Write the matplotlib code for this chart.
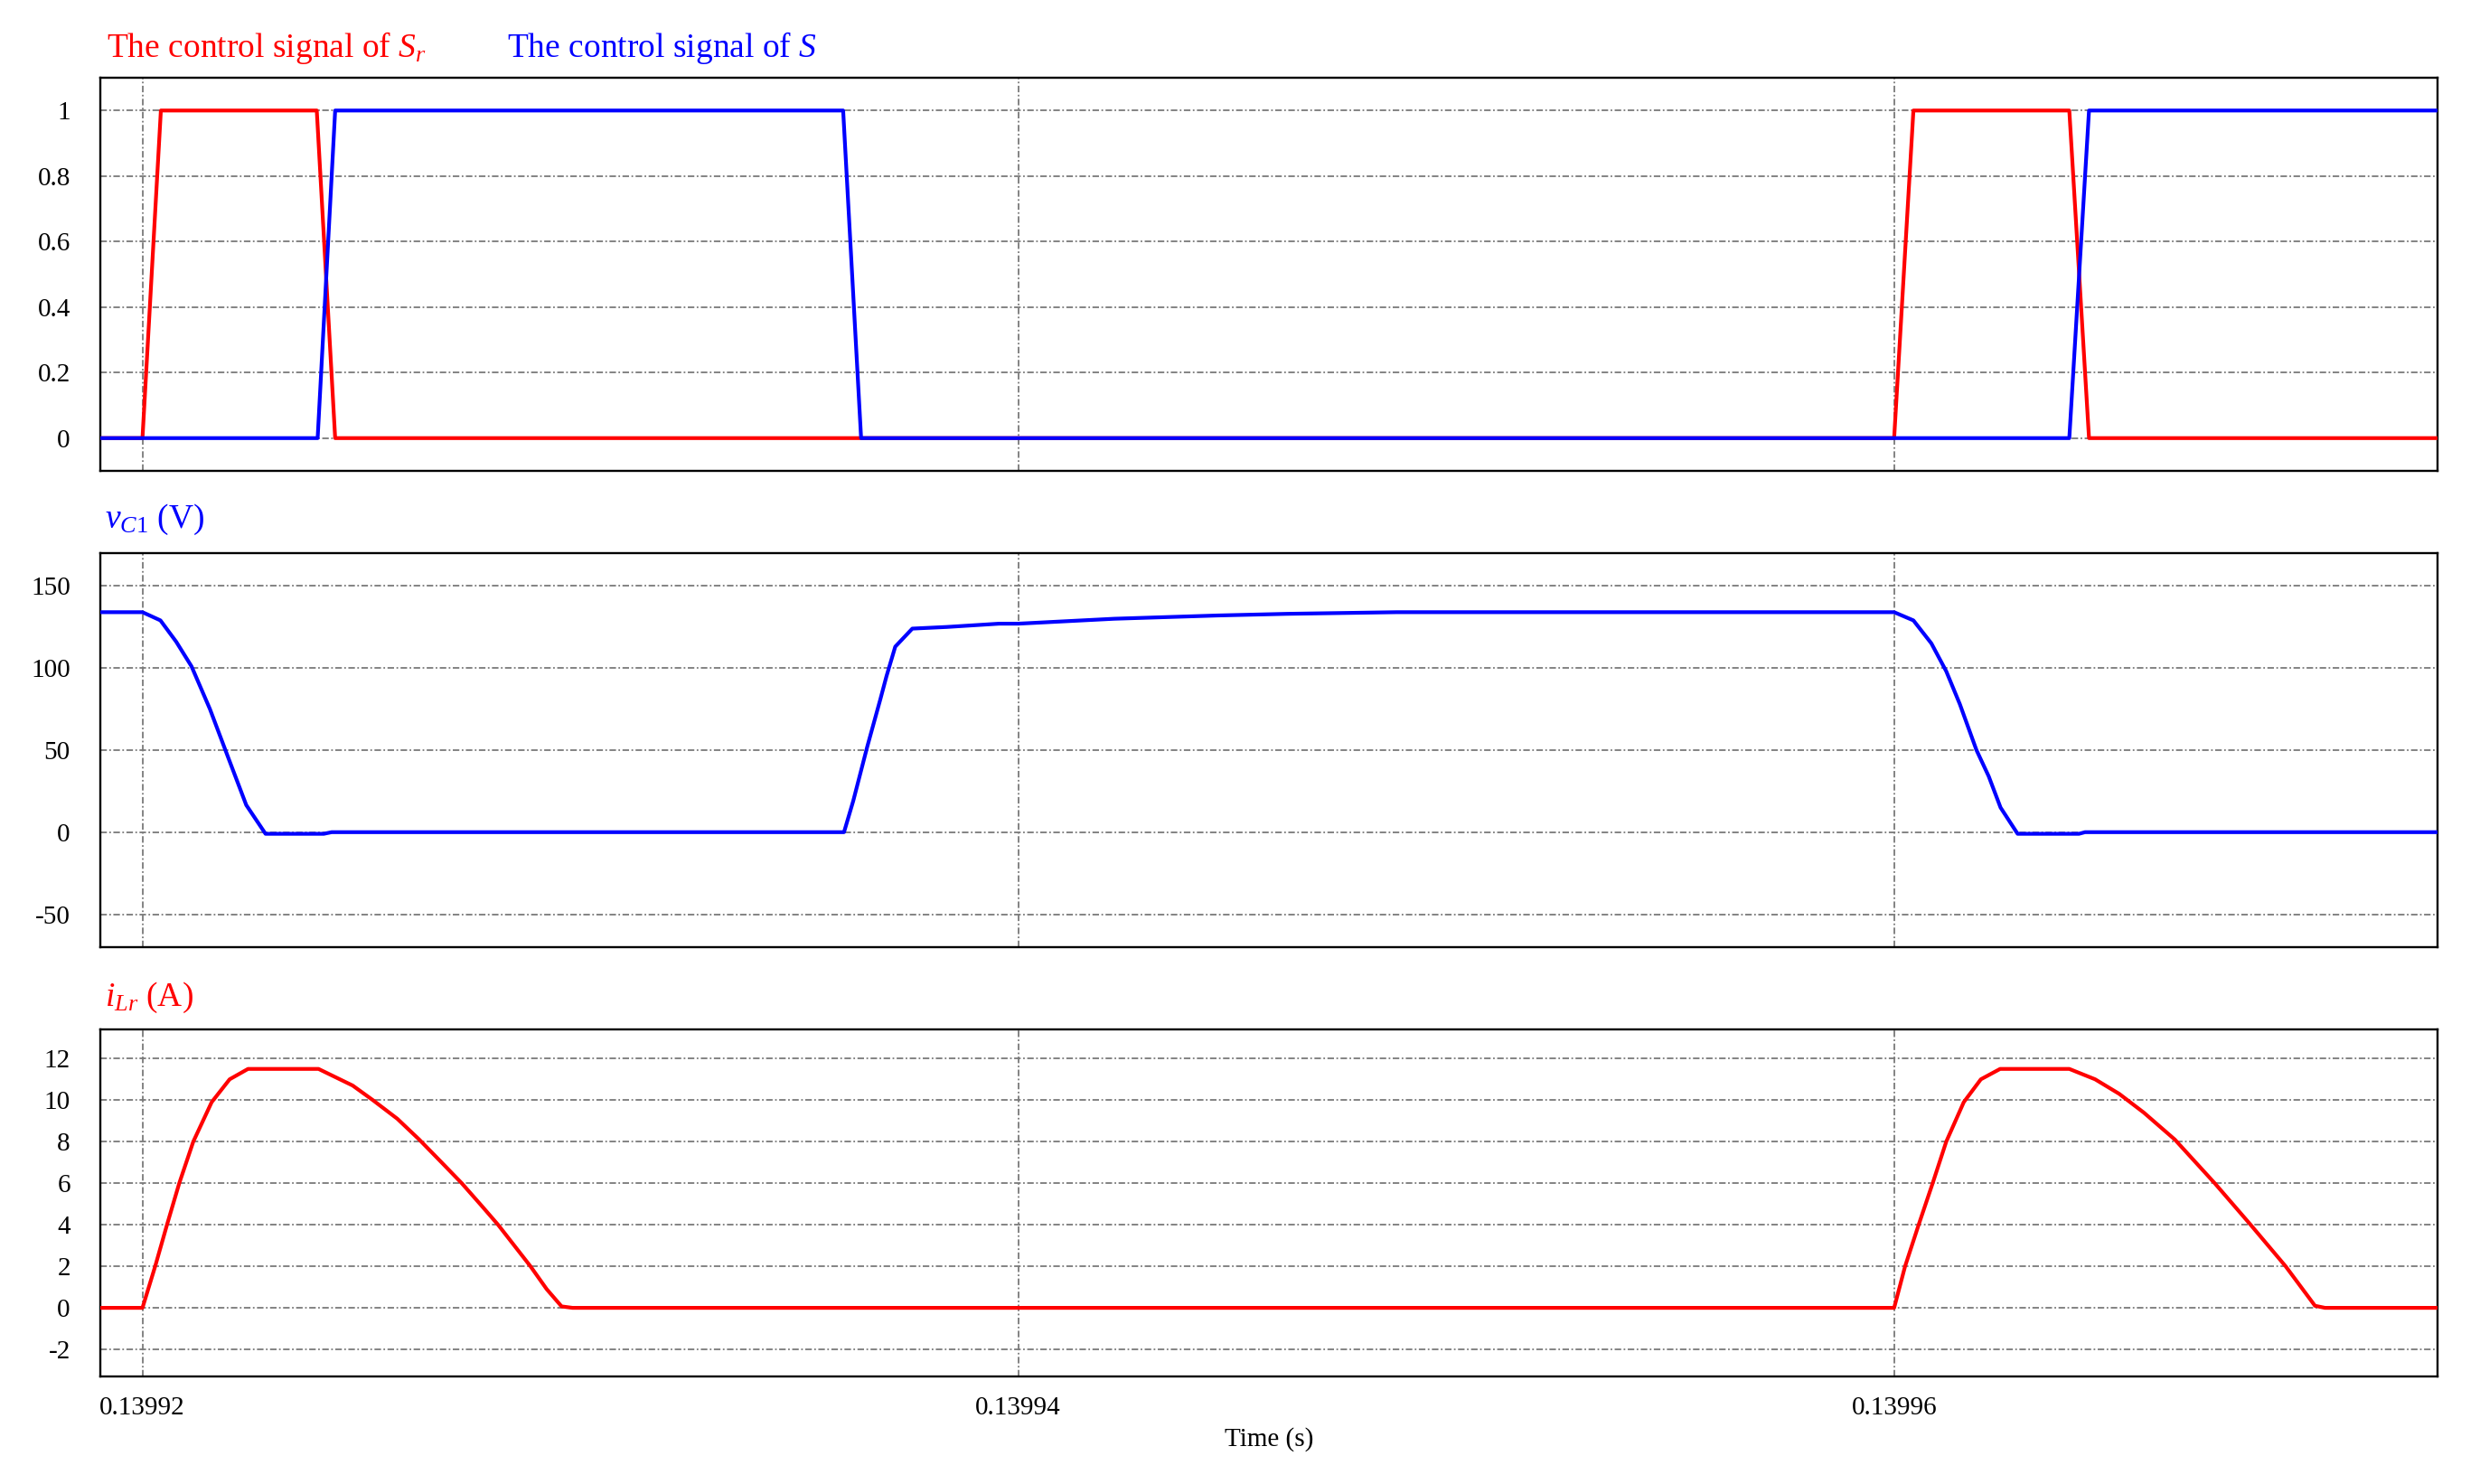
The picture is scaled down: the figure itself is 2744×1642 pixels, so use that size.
import numpy as np
import matplotlib
matplotlib.use("Agg")
import matplotlib.pyplot as plt

plt.rcParams['font.family'] = ['Liberation Serif', 'DejaVu Serif']
plt.rcParams['mathtext.fontset'] = 'custom'
plt.rcParams['mathtext.rm'] = 'Liberation Serif'
plt.rcParams['mathtext.it'] = 'Liberation Serif:italic'
plt.rcParams['axes.unicode_minus'] = False

# time axis: microseconds after 0.13992 s
t0 = 0.13992
t_start, t_end = -0.96, 52.41

# gate signals
t_sr = [-0.96, 0.0, 0.42, 3.98, 4.40, 40.0, 40.44, 44.0, 44.45, 52.41]
sr = [0, 0, 1, 1, 0, 0, 1, 1, 0, 0]
t_s = [-0.96, 4.0, 4.40, 16.0, 16.41, 44.0, 44.45, 52.41]
s = [0, 0, 1, 1, 0, 0, 1, 1]

# capacitor voltage vC1 (V)
t_vc = [-0.96, 0.0, 0.41, 0.77, 1.12, 1.54, 1.95, 2.37, 2.81, 4.14, 4.32,
        16.02, 16.23, 16.55, 16.85, 16.99, 17.19, 17.58, 18.37, 19.56, 20.0,
        22.19, 24.56, 26.14, 28.64, 40.0, 40.44, 40.85, 41.19, 41.5, 41.88,
        42.16, 42.43, 42.82, 44.22, 44.36, 52.41]
v_c1 = [134, 134, 129, 116, 101, 75, 46, 16.5, -1, -1, 0,
        0, 19, 52, 81, 95, 113, 124, 125, 127, 127,
        130, 132, 133, 134, 134, 129, 115, 98, 78, 50,
        34, 15, -1, -1, 0, 0]

# resonant inductor current iLr (A)
t_il = [-0.96, 0.0, 0.29, 0.56, 0.84, 1.16, 1.58, 1.99, 2.41, 4.02, 4.80,
        5.26, 5.82, 6.32, 6.83, 7.29, 7.75, 8.12, 8.49, 8.86, 9.23, 9.57,
        9.82, 40.0, 40.25, 40.56, 40.88, 41.19, 41.59, 41.98, 42.42, 44.0,
        44.59, 45.14, 45.70, 46.41, 47.32, 48.14, 48.94, 49.61, 49.84, 52.41]
i_lr = [0, 0, 2.0, 4.0, 6.0, 8.0, 9.9, 11.0, 11.5, 11.5, 10.7,
        10.0, 9.1, 8.1, 7.0, 6.0, 4.9, 4.0, 3.0, 2.0, 0.9, 0.07,
        0, 0, 2.0, 4.0, 6.0, 8.0, 9.9, 11.0, 11.5, 11.5,
        11.0, 10.3, 9.4, 8.1, 6.0, 4.0, 2.0, 0.1, 0, 0]

x_ticks = [0.13992, 0.13994, 0.13996]
x_ticklabels = ['0.13992', '0.13994', '0.13996']


def sec(us):
    return t0 + np.array(us) * 1e-6


fig = plt.figure(figsize=(27.44, 16.42), dpi=100)
left, width = 0.0405, 0.9424
ax1 = fig.add_axes([left, 0.6827, width, 0.2649])
ax2 = fig.add_axes([left, 0.3618, width, 0.2655])
ax3 = fig.add_axes([left, 0.0725, width, 0.2338])

lw = 3.0
ax1.plot(sec(t_sr), sr, color='#ff0000', lw=lw, zorder=3)
ax1.plot(sec(t_s), s, color='#0000ff', lw=lw, zorder=3)
ax2.plot(sec(t_vc), v_c1, color='#0000ff', lw=lw, zorder=3)
ax3.plot(sec(t_il), i_lr, color='#ff0000', lw=lw, zorder=3)

ax1.set_ylim(-0.1, 1.1)
ax1.set_yticks([0, 0.2, 0.4, 0.6, 0.8, 1])
ax1.set_yticklabels(['0', '0.2', '0.4', '0.6', '0.8', '1'])
ax2.set_ylim(-70, 170)
ax2.set_yticks([-50, 0, 50, 100, 150])
ax3.set_ylim(-3.3, 13.4)
ax3.set_yticks(list(range(-2, 13, 2)))

grid_ls = (0, (4, 1.5, 1, 1.5))
for ax in (ax1, ax2, ax3):
    ax.set_xlim(sec(t_start), sec(t_end))
    ax.set_xticks(x_ticks)
    ax.grid(True, color='#7a7a7a', linestyle=grid_ls, linewidth=1.3)
    ax.tick_params(axis='both', length=0, labelsize=21)
    ax.tick_params(axis='y', pad=24)
    ax.tick_params(axis='x', pad=16)
    for sp in ax.spines.values():
        sp.set_linewidth(1.7)
        sp.set_color('black')

ax1.set_xticklabels([])
ax2.set_xticklabels([])
ax3.set_xticklabels(x_ticklabels)
ax3.set_xlabel('Time (s)', fontsize=21, labelpad=6)

fig.text(118 / 2744, 1 - 63 / 1642, 'The control signal of $S_r$',
         color='#ff0000', fontsize=27, ha='left', va='baseline')
fig.text(561 / 2744, 1 - 63 / 1642, 'The control signal of $S$',
         color='#0000ff', fontsize=27, ha='left', va='baseline')
fig.text(116 / 2744, 1 - 584 / 1642, '$v_{C1}$ (V)',
         color='#0000ff', fontsize=27, ha='left', va='baseline')
fig.text(116 / 2744, 1 - 1113 / 1642, '$i_{Lr}$ (A)',
         color='#ff0000', fontsize=27, ha='left', va='baseline')

fig.savefig('out.png', dpi=100)
